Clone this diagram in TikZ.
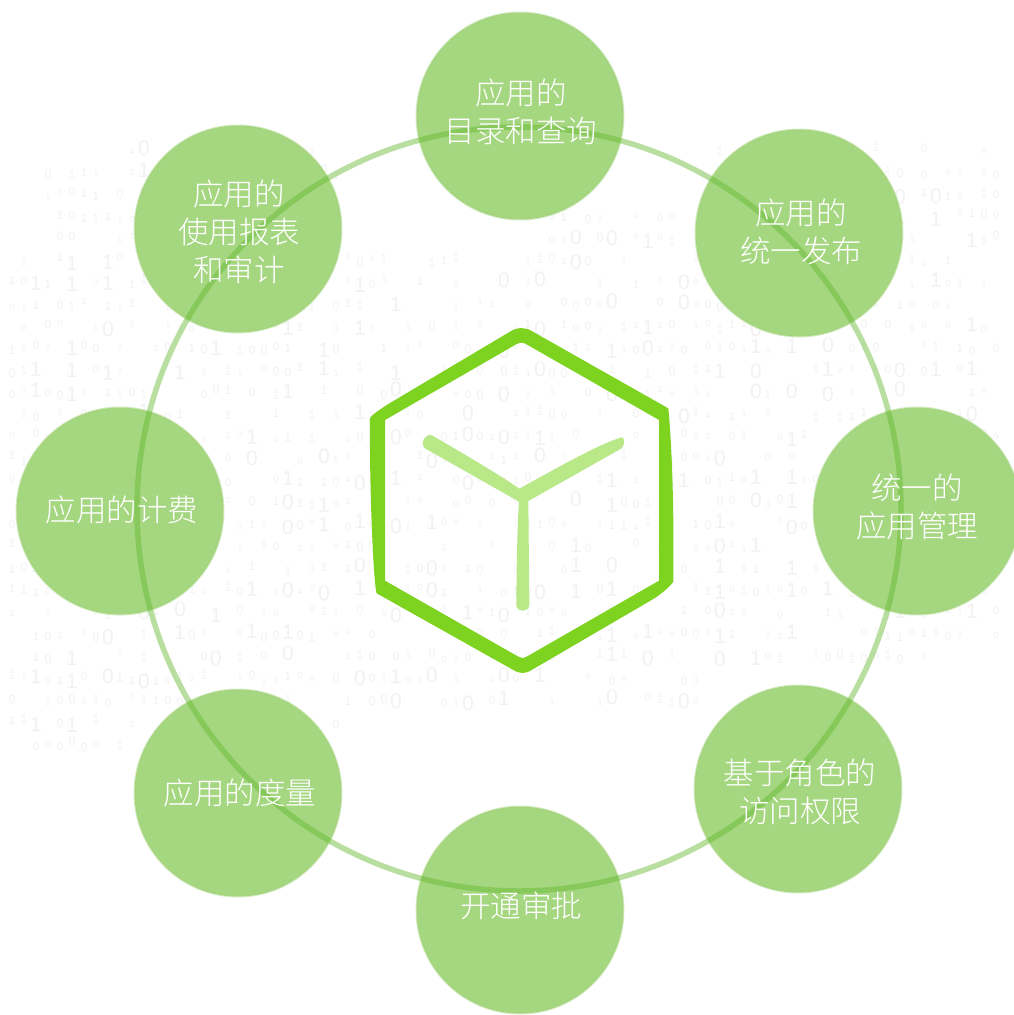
\documentclass[tikz,border=0pt]{standalone}
\usepackage{fontspec}
\setmainfont{Noto Sans CJK SC}[UprightFont=* Light]
\newfontfamily\digitfont{Liberation Sans}
\definecolor{bub}{HTML}{A3D57C}
\definecolor{ringc}{HTML}{62BA2C}
\definecolor{hexc}{HTML}{7ED321}
\definecolor{yc}{HTML}{B8E888}
\definecolor{digc}{HTML}{F2F2F2}
\tikzset{
  bubble/.style={circle,inner sep=0pt,minimum size=207pt,fill=bub,fill opacity=.97,draw=bub,draw opacity=.45,line width=2pt},
  caption/.style={text=white,font=\fontsize{30.5}{38}\selectfont,align=center,inner sep=0pt},
  digit/.style={text=digc,inner sep=0pt},
  ringline/.style={draw=ringc,draw opacity=.45,line width=5.5pt}
}
\begin{document}
\begin{tikzpicture}[x=1pt,y=-1pt]
\useasboundingbox (0,0) rectangle (1014,1015);
\fill[white] (0,0) rectangle (1014,1015);
% faint binary field
\pgfmathsetseed{20231}
\foreach \cx in {12,24,...,1002}{
  \foreach \cy in {150,172,...,760}{
    \pgfmathsetmacro{\keep}{random()}
    \pgfmathsetmacro{\pick}{random()}
    \pgfmathsetmacro{\jit}{random(0,6)-3}
    \pgfmathtruncatemacro{\val}{random(0,1)}
    \pgfmathtruncatemacro{\big}{mod(\cx,36)==0}
    \pgfmathsetmacro{\fs}{\big==1?(\pick<.55?21:12):(\pick<.45?12:9)}
    \pgfmathtruncatemacro{\inside}{
      (\cx<40 && \cy>=250 && \cy<=755) ||
      (\cx>=40 && \cx<130 && \cy>=172 && \cy<=755) ||
      (\cx>=130 && \cx<340 && \cy<=730) ||
      (\cx>=340 && \cx<520 && \cy>=240 && \cy<=700) ||
      (\cx>=520 && \cx<720 && \cy>=200 && \cy<=700) ||
      (\cx>=720 && \cx<930 && \cy<=675) ||
      (\cx>=930 && \cy<=650)}
    \ifnum\inside=1
      \ifdim\keep pt<0.6pt
        \node[digit,font=\fontsize{\fs}{\fs}\selectfont\digitfont] (d\cx-\cy) at (\cx,\cy+\jit) {\val};
      \fi
    \fi
  }
}
% bubbles
\node[bubble] (top) at (520,116) {};
\node[bubble] (ur) at (799,233) {};
\node[bubble] (right) at (917,511) {};
\node[bubble] (lr) at (798,789) {};
\node[bubble] (bottom) at (520,910) {};
\node[bubble] (ll) at (238,793) {};
\node[bubble] (left) at (120,511) {};
\node[bubble] (ul) at (238,229) {};
% ring
\node[circle,ringline,inner sep=0pt,minimum size=764pt] (ring) at (519,509) {};
% captions
\node[caption] (ttop) at (521,112) {应用的\\目录和查询};
\node[caption] (tur) at (801,232) {应用的\\统一发布};
\node[caption] (tright) at (917,507) {统一的\\应用管理};
\node[caption] (tlr) at (800,792) {基于角色的\\访问权限};
\node[caption] (tbottom) at (521,906) {开通审批};
\node[caption] (tll) at (240,793) {应用的度量};
\node[caption] (tleft) at (122,510) {应用的计费};
\node[caption] (tul) at (239,232) {应用的\\使用报表\\和审计};
% cube
\begin{scope}[shift={(360,320)},x=1/3*1pt,y=-1/3*1pt]
\fill[hexc,even odd rule]
  (30,295) .. controls (32,288) and (50,275) .. (80,255)
  -- (450,35) .. controls (470,22) and (495,20) .. (515,33)
  -- (925,265) .. controls (938,400) and (942,600) .. (940,785)
  .. controls (930,800) and (900,825) .. (880,837)
  -- (515,1050) .. controls (495,1062) and (480,1062) .. (460,1050)
  -- (50,820) .. controls (40,790) and (28,500) .. (30,295) -- cycle
  (75,300) -- (465,75) .. controls (478,66) and (490,66) .. (503,75)
  -- (897,300) -- (897,782) -- (500,1010) .. controls (490,1015) and (482,1015) .. (475,1010)
  -- (75,782) -- cycle;
\fill[yc]
  (216,346) .. controls (300,395) and (420,465) .. (478,506)
  .. controls (580,450) and (720,370) .. (785,352)
  .. controls (795,352) and (795,375) .. (785,385)
  -- (505,543)
  -- (508,855) .. controls (506,878) and (470,878) .. (469,855)
  .. controls (470,720) and (472,620) .. (477,545)
  -- (195,385) .. controls (178,368) and (195,340) .. (216,346) -- cycle;
\end{scope}
\end{tikzpicture}
\end{document}
